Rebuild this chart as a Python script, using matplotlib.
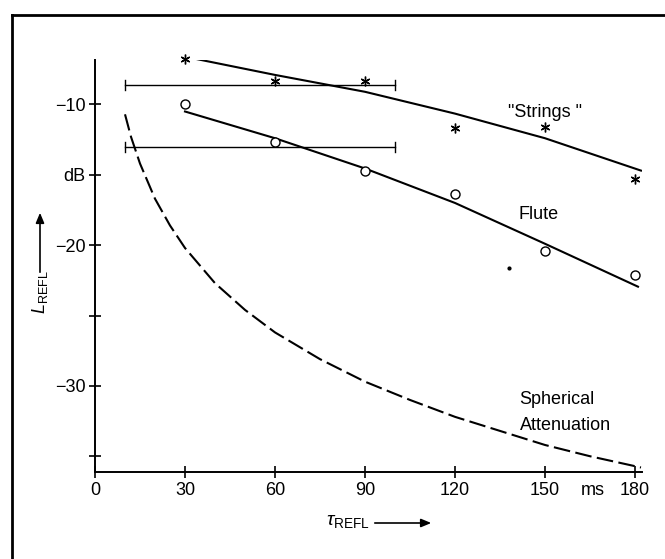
import matplotlib
matplotlib.use("Agg")
import matplotlib.pyplot as plt
from matplotlib.lines import Line2D
from matplotlib.patches import FancyArrowPatch

plt.rcParams['font.family'] = ['Liberation Sans Narrow', 'Liberation Sans', 'DejaVu Sans']
plt.rcParams['mathtext.fontset'] = 'custom'
plt.rcParams['mathtext.rm'] = 'Liberation Sans'
plt.rcParams['mathtext.it'] = 'Liberation Sans:italic'

# ---- data ----
strings_x = [30, 60, 90, 120, 150, 180]
strings_y = [-6.8, -8.3, -8.3, -11.7, -11.6, -15.3]
flute_x = [30, 60, 90, 120, 150, 180]
flute_y = [-10.0, -12.7, -14.7, -16.35, -20.4, -22.1]
speck_x = [138]
speck_y = [-21.6]

strings_fit_x = [31, 60, 90, 120, 150, 182]
strings_fit_y = [-6.65, -7.9, -9.1, -10.65, -12.4, -14.7]
flute_fit_x = [30, 60, 90, 120, 150, 181]
flute_fit_y = [-10.5, -12.4, -14.55, -17.0, -19.9, -22.95]

sph_x = [10, 12, 15, 20, 25, 30, 40, 50, 60, 75, 90, 105, 120, 135, 150, 165, 182]
sph_y = [-10.7, -12.3, -14.2, -16.7, -18.6, -20.2, -22.7, -24.6, -26.2, -28.1, -29.7,
         -31.0, -32.2, -33.2, -34.2, -35.0, -35.8]

range_x = [10, 100]
strings_range_y = -8.6
flute_range_y = -13.0

xticks = [0, 30, 60, 90, 120, 150, 180]
xtick_labels = ['0', '30', '60', '90', '120', '150', '180']
yticks = [-35, -30, -25, -20, -15, -10]
ytick_labels = ['', '\u221230', '', '\u221220', 'dB', '\u221210']

W, H = 665, 559
fig = plt.figure(figsize=(W / 100, H / 100), dpi=100)

def fx(px):
    return px / W

def fy(py):
    return 1 - py / H

ax = fig.add_axes([fx(95), fy(472), fx(642.5) - fx(95), fy(60) - fy(472)])
ax.set_xlim(0, 182.5)
ax.set_ylim(-36.12, -6.84)
for s in ['top', 'right']:
    ax.spines[s].set_visible(False)
for s in ['left', 'bottom']:
    ax.spines[s].set_linewidth(1.4)

ax.set_xticks(xticks)
ax.set_xticklabels(xtick_labels, fontsize=13)
ax.set_yticks(yticks)
ax.set_yticklabels(ytick_labels, fontsize=13)
ax.tick_params(direction='inout', length=8, width=1.2, pad=3)
ax.annotate('ms', xy=(166, 0), xycoords=('data', 'axes fraction'),
            xytext=(0, -7.5), textcoords='offset points',
            fontsize=13, ha='center', va='top')

# range bars
for yv in [strings_range_y, flute_range_y]:
    ax.plot(range_x, [yv, yv], color='black', lw=1.0)
    for xv in range_x:
        ax.plot([xv, xv], [yv - 0.35, yv + 0.35], color='black', lw=1.0)

# fitted curves
ax.plot(strings_fit_x, strings_fit_y, color='black', lw=1.5)
ax.plot(flute_fit_x, flute_fit_y, color='black', lw=1.5)
ax.plot(sph_x, sph_y, color='black', lw=1.5, dashes=(8, 2.6))

# data points
ax.plot(strings_x, strings_y, linestyle='none', marker=(6, 2, 0), ms=7,
        color='black', mew=1.0, clip_on=False)
ax.plot(flute_x, flute_y, linestyle='none', marker='o', ms=6.5,
        mfc='white', mec='black', mew=1.0, clip_on=False)
ax.plot(speck_x, speck_y, linestyle='none', marker='o', ms=2, color='black')

# curve labels
ax.text(150, -10.6, '"Strings "', fontsize=13, ha='center', va='center')
ax.text(148, -17.8, 'Flute', fontsize=13, ha='center', va='center')
ax.text(141.5, -31.0, 'Spherical', fontsize=13, ha='left', va='center')
ax.text(141.5, -32.85, 'Attenuation', fontsize=13, ha='left', va='center')

# axis labels with arrows
fig.text(fx(40), fy(292), r'$L_{\rm REFL}$', rotation=90, fontsize=13,
         ha='center', va='center')
fig.add_artist(FancyArrowPatch(
    (fx(40), fy(275)), (fx(40), fy(210)), transform=fig.transFigure,
    arrowstyle='-|>,head_length=6,head_width=2.5', color='black', lw=1.2))
fig.text(fx(348), fy(521), r'$\tau_{\rm REFL}$', fontsize=14,
         ha='center', va='center')
fig.add_artist(FancyArrowPatch(
    (fx(372), fy(523)), (fx(434), fy(523)), transform=fig.transFigure,
    arrowstyle='-|>,head_length=6,head_width=2.5', color='black', lw=1.2))

# frame
fig.add_artist(Line2D([fx(12), fx(12)], [fy(15), 0], transform=fig.transFigure,
                      color='black', lw=2))
fig.add_artist(Line2D([fx(12), 1], [fy(15), fy(15)], transform=fig.transFigure,
                      color='black', lw=2))

fig.savefig('out.png', dpi=100)
